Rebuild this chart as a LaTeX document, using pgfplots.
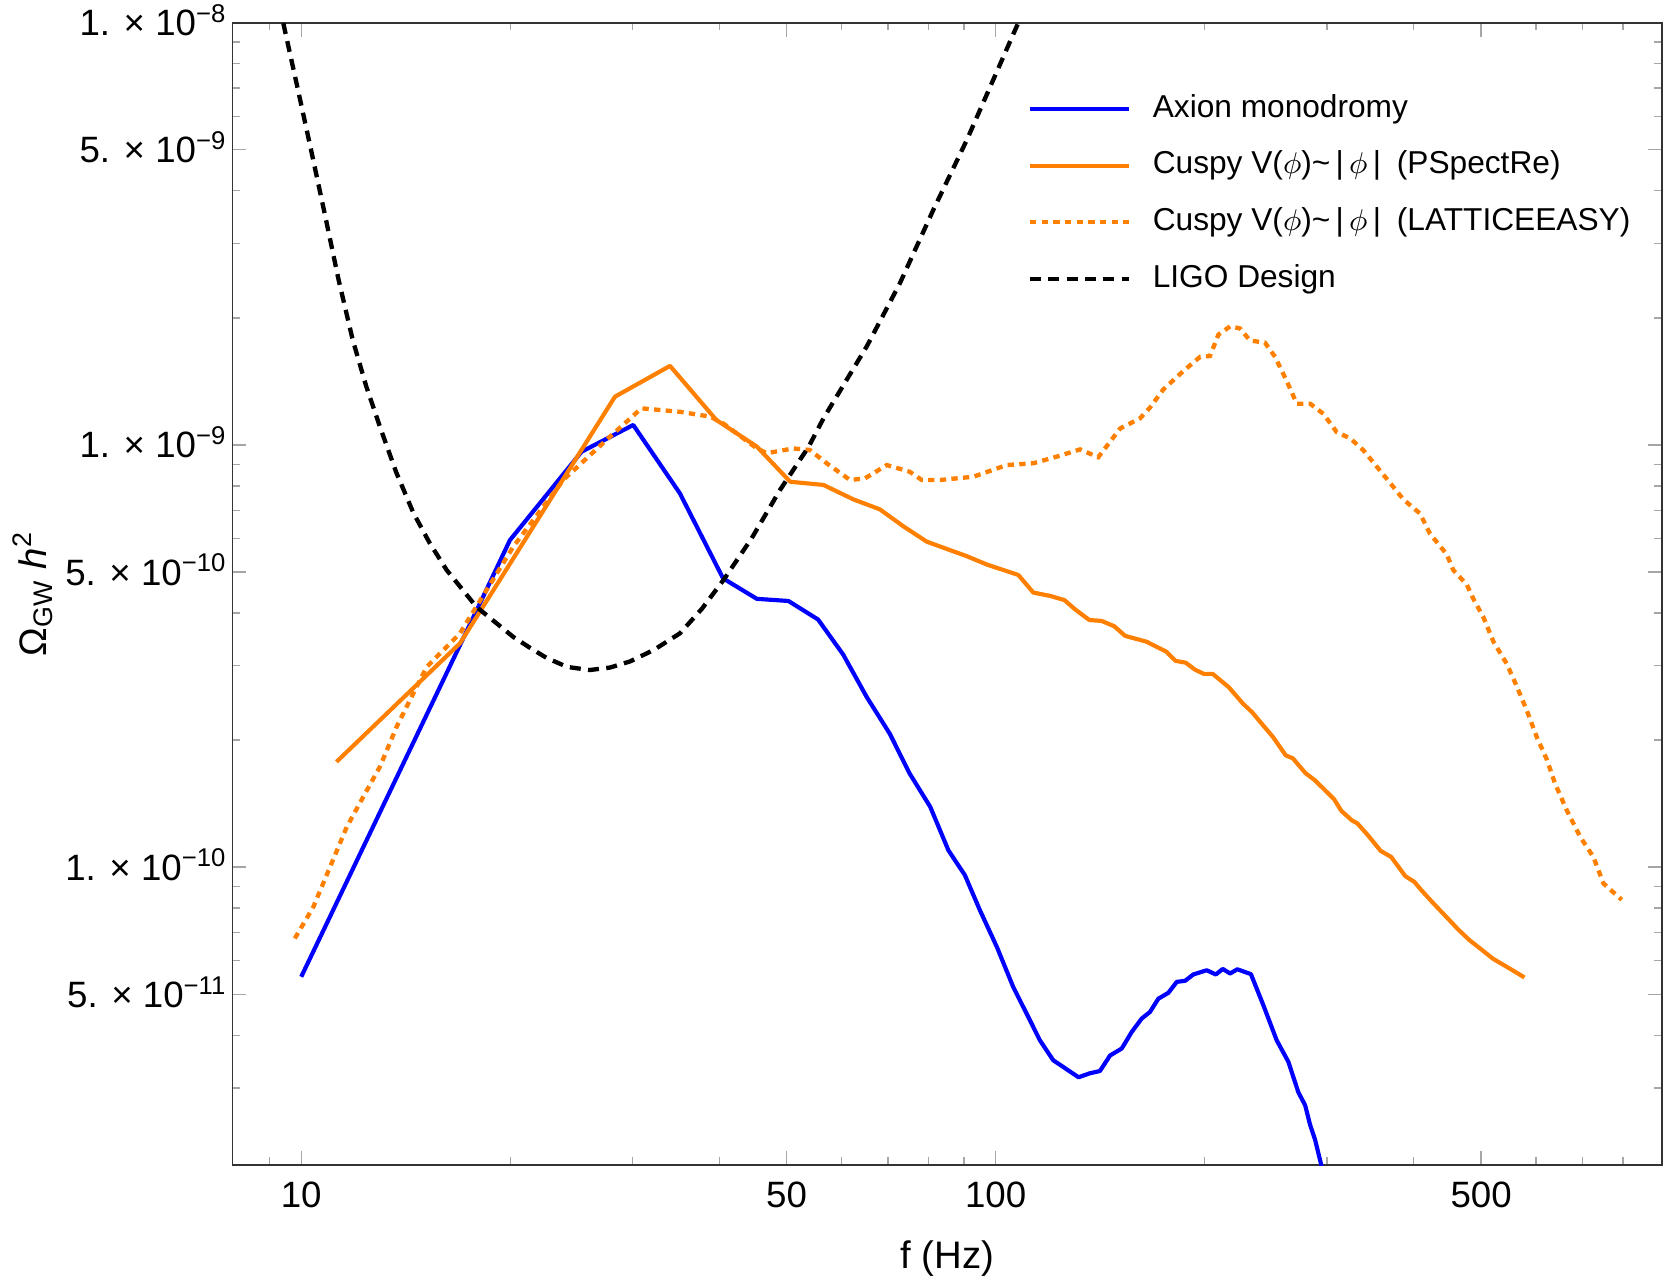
\documentclass[border=0pt]{standalone}
\usepackage{fontspec}
\setmainfont{Liberation Sans}
\usepackage{pgfplots}
\pgfplotsset{compat=1.18}
\definecolor{mmaorange}{RGB}{255,128,0}
\begin{document}
\begin{tikzpicture}
\begin{axis}[
  name=main,
  scale only axis, width=428.9pt, height=342.7pt,
  xmode=log, ymode=log,
  xmin=7.96, xmax=911, ymin=1.97e-11, ymax=1e-8,
  xtick={10,50,100,500}, xticklabels={10,50,100,500},
  minor xtick={9,20,30,40,60,70,80,90,200,300,400,600,700,800},
  ytick={5e-11,1e-10,5e-10,1e-9,5e-9,1e-8},
  yticklabels={{5. × 10\textsuperscript{−11}},{1. × 10\textsuperscript{−10}},{5. × 10\textsuperscript{−10}},{1. × 10\textsuperscript{−9}},{5. × 10\textsuperscript{−9}},{1. × 10\textsuperscript{−8}}},
  minor ytick={3e-11,4e-11,6e-11,7e-11,8e-11,9e-11,2e-10,3e-10,4e-10,6e-10,7e-10,8e-10,9e-10,2e-9,3e-9,4e-9,6e-9,7e-9,8e-9,9e-9},
  tick align=inside,
  major tick length=4.2pt, minor tick length=2.3pt,
  tick style={gray!70, line width=0.4pt},
  axis line style={black!80, line width=0.5pt},
  tick label style={font=\fontsize{11}{13}\selectfont},
  xticklabel style={inner sep=0pt, anchor=north},
  xticklabel shift=4.8pt,
  yticklabel style={inner sep=0pt, anchor=base east, yshift=-3.9pt},
  yticklabel shift=1.4pt,
  xlabel={f (Hz)},
  ylabel={Ω\textsubscript{GW} \textit{h}\textsuperscript{2}},
  label style={font=\fontsize{11.5}{13}\selectfont},
  xlabel style={at={(axis description cs:0.5,0)}, anchor=base, yshift=-31pt},
  ylabel style={at={(axis description cs:-0.1300,0.5)}, anchor=base},
  legend style={draw=none, fill=none, at={(0.5564,0.9376)}, anchor=north west,
    inner sep=0pt, outer sep=0pt, row sep=8pt,
    font=\fontsize{9.5}{11}\selectfont,
    nodes={inner xsep=0pt, inner ysep=0pt, text height=7pt, text depth=2pt}},
  legend cell align=left,
  legend image code/.code={\draw[#1] (0pt,0pt) -- (29.8pt,0pt); \path (36.2pt,0pt);},
]
\addplot[blue, line width=1.25pt, line join=round] coordinates {
(10,5.50e-11) (17.99,4.135e-10) (19.98,5.95e-10) (25.34,9.64e-10) (30.07,1.115e-9)
(35.1,7.68e-10) (40.5,4.83e-10) (45.3,4.32e-10) (50.3,4.27e-10) (55.5,3.86e-10)
(60.3,3.19e-10) (65.2,2.53e-10) (70.4,2.07e-10) (75.2,1.666e-10) (80.5,1.389e-10)
(85.5,1.096e-10) (90.3,9.57e-11) (94.9,7.91e-11) (100.4,6.47e-11) (106,5.20e-11)
(110.8,4.50e-11) (115.8,3.89e-11) (121,3.49e-11) (131.6,3.18e-11) (136.7,3.25e-11)
(141.3,3.29e-11) (146.1,3.58e-11) (151.9,3.72e-11) (157,4.07e-11) (162.3,4.38e-11)
(166.8,4.54e-11) (171.5,4.88e-11) (177.3,5.04e-11) (182.3,5.35e-11) (187.4,5.38e-11)
(192.6,5.57e-11) (201.3,5.70e-11) (207.5,5.57e-11) (212.3,5.74e-11) (217.6,5.60e-11)
(222.8,5.73e-11) (233.1,5.58e-11) (242.9,4.71e-11) (253.9,3.89e-11) (263.9,3.46e-11)
(272.8,2.93e-11) (279,2.73e-11) (283.7,2.45e-11) (288.4,2.26e-11) (294.8,1.95e-11)
};
\addlegendentry{Axion monodromy}
\addplot[mmaorange, line width=1.25pt, line join=round] coordinates {
(11.24,1.776e-10) (16.93,3.39e-10) (28.3,1.301e-9) (33.97,1.539e-9) (39.6,1.146e-9)
(45.3,9.91e-10) (50.6,8.18e-10) (56.5,8.04e-10) (62.4,7.43e-10) (68.1,7.04e-10)
(73.6,6.42e-10) (79.6,5.90e-10) (90.9,5.45e-10) (97.1,5.21e-10) (107.8,4.92e-10)
(113.3,4.47e-10) (119.8,4.39e-10) (125.6,4.29e-10) (130.1,4.08e-10) (136.4,3.85e-10)
(142.1,3.83e-10) (148.2,3.72e-10) (153.6,3.53e-10) (164.9,3.42e-10) (170.9,3.32e-10)
(176,3.24e-10) (181.6,3.08e-10) (187.8,3.05e-10) (193.4,2.94e-10) (199.3,2.87e-10)
(205.3,2.87e-10) (216.5,2.67e-10) (227,2.44e-10) (233.9,2.33e-10) (251,2.03e-10)
(261.6,1.84e-10) (267.9,1.81e-10) (279.3,1.67e-10) (287.7,1.61e-10) (307,1.45e-10)
(314.5,1.36e-10) (325.9,1.29e-10) (331.7,1.27e-10) (343.6,1.19e-10) (358.4,1.093e-10)
(371.2,1.057e-10) (389,9.52e-11) (400.7,9.23e-11) (410.2,8.82e-11) (425.1,8.27e-11)
(445.7,7.62e-11) (464.6,7.09e-11) (481.5,6.71e-11) (498.9,6.41e-11) (520,6.07e-11)
(545.2,5.80e-11) (577.3,5.48e-11)
};
\addlegendentry{Cuspy V($\phi$)\textasciitilde\,|\,$\phi$\,|\enspace(PSpectRe)}
\addplot[mmaorange, line width=1.3pt, dash pattern=on 1.9pt off 1.6pt] coordinates {
(9.79,6.78e-11) (10.41,8.05e-11) (11.0,1.0e-10) (11.63,1.245e-10) (12.28,1.466e-10)
(12.98,1.728e-10) (13.72,2.15e-10) (14.50,2.58e-10) (15.16,2.98e-10) (16.93,3.58e-10)
(20.2,5.74e-10) (23.84,8.26e-10) (27.84,1.046e-9) (30.9,1.221e-9) (35.1,1.198e-9)
(38.8,1.167e-9) (40.5,1.125e-9) (45.3,9.81e-10) (46.8,9.56e-10) (51.1,9.81e-10)
(54.0,9.73e-10) (57.1,9.05e-10) (61.7,8.26e-10) (64.8,8.33e-10) (69.7,8.96e-10)
(75.2,8.64e-10) (78.3,8.26e-10) (83.2,8.26e-10) (92.9,8.41e-10) (103.7,8.96e-10)
(113.3,9.05e-10) (122.4,9.38e-10) (132.3,9.76e-10) (140.5,9.35e-10) (151.1,1.094e-9)
(161.4,1.156e-9) (166.8,1.226e-9) (174.4,1.354e-9) (186.3,1.496e-9) (197,1.617e-9)
(203.5,1.624e-9) (209.3,1.826e-9) (217.6,1.909e-9) (224.8,1.888e-9) (232.4,1.767e-9)
(244.2,1.747e-9) (252.5,1.617e-9) (262.5,1.416e-9) (271.4,1.252e-9) (283.7,1.252e-9)
(296.4,1.185e-9) (309.8,1.072e-9) (323.9,1.037e-9) (338.5,9.71e-10) (353.9,8.88e-10)
(369.8,8.13e-10) (386.5,7.43e-10) (408.3,6.88e-10) (422.1,6.16e-10) (446.1,5.51e-10)
(456.1,5.05e-10) (476.8,4.67e-10) (487.3,4.32e-10) (503.8,3.91e-10) (520.9,3.42e-10)
(544.5,3.03e-10) (562.8,2.68e-10) (581.9,2.35e-10) (601.6,2.03e-10) (621.7,1.80e-10)
(639.2,1.575e-10) (664.4,1.363e-10) (694.5,1.18e-10) (725.9,1.056e-10) (750.2,9.15e-11)
(797.1,8.37e-11)
};
\addlegendentry{Cuspy V($\phi$)\textasciitilde\,|\,$\phi$\,|\enspace(LATTICEEASY)}
\addplot[black, line width=1.3pt, dash pattern=on 3.3pt off 2.2pt, line join=round] coordinates {
(9.31,1.10e-8) (9.42,1.0e-8) (9.86,7.11e-9) (10.32,5.04e-9) (10.81,3.53e-9)
(11.32,2.46e-9) (11.86,1.776e-9) (12.41,1.374e-9) (12.99,1.101e-9) (13.70,8.62e-10)
(14.50,6.91e-10) (15.30,5.87e-10) (16.19,5.06e-10) (17.88,4.135e-10) (20.2,3.51e-10)
(21.34,3.31e-10) (22.56,3.13e-10) (24.16,2.98e-10) (26.03,2.93e-10) (27.84,2.97e-10)
(29.74,3.07e-10) (32.2,3.27e-10) (35.11,3.58e-10) (37.75,4.09e-10) (40.53,4.78e-10)
(44.5,6.0e-10) (48.91,7.82e-10) (53.8,9.91e-10) (56.5,1.156e-9) (65.2,1.710e-9)
(72.8,2.415e-9) (81.3,3.60e-9) (90.9,5.28e-9) (107.8,1.0e-8) (109.5,1.08e-8)
};
\addlegendentry{LIGO Design}
\end{axis}
\pgfresetboundingbox
\path ([xshift=-69.7pt,yshift=-34.5pt]main.south west) rectangle ([xshift=3.9pt,yshift=6.8pt]main.north east);
\end{tikzpicture}
\end{document}
